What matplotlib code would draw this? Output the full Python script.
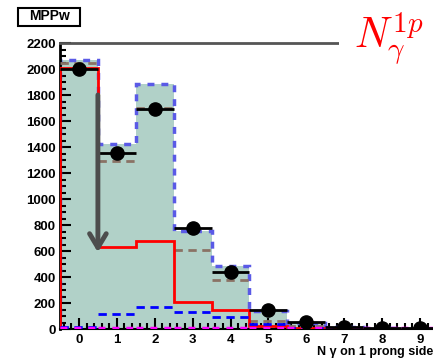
import numpy as np
import matplotlib
matplotlib.use("Agg")
import matplotlib.pyplot as plt
from matplotlib.patches import Rectangle

plt.rcParams['font.family'] = ['Liberation Sans', 'DejaVu Sans']
plt.rcParams['mathtext.fontset'] = 'cm'

# number of photons on the 1-prong side, one bin per integer
ngamma = np.arange(10)
edges = np.arange(11) - 0.5

data = [2000, 1354, 1690, 780, 440, 145, 52, 15, 6, 5]
total = [2069, 1420, 1888, 756, 482, 138, 50, 12, 4, 3]
other = [2046, 1292, 1700, 608, 377, 64, 20, 6, 2, 1]
signal = [2008, 631, 680, 208, 146, 23, 6, 3, 2, 1]
bkg_a = [18, 115, 172, 131, 92, 38, 10, 3, 1, 0]
bkg_b = [4, 4, 4, 4, 4, 4, 4, 4, 4, 4]

W, H = 433, 361
fig = plt.figure(figsize=(W / 100, H / 100), dpi=100)
ax = fig.add_axes([60 / W, 32 / H, (439 - 60) / W, (329 - 43) / H])

# stacked prediction: filled, with dashed outline
ax.stairs(total, edges, fill=True, color='#b1d1c8', zorder=1)
ax.stairs(total, edges, color='#5a5ae6', lw=2.5, ls=(0, (2, 2)), zorder=2)

ax.hlines(other, edges[:-1], edges[1:], color='#8a7265', lw=2, ls=(0, (3, 2)), zorder=3)
ax.stairs(signal, edges, color='#ff0000', lw=2, zorder=4)
ax.hlines(bkg_a, edges[:-1], edges[1:], color='#0000ff', lw=2, ls=(0, (3, 2)), zorder=4)
ax.hlines(bkg_b, edges[:-1], edges[1:], color='#ff00ff', lw=2.5, ls=(0, (2, 2)), zorder=5)

ax.errorbar(ngamma, data, xerr=0.5, fmt='o', color='black', ms=9.5, lw=2,
            capsize=0, zorder=6)

# selection cut arrow
ax.annotate('', xy=(0.5, 590), xytext=(0.5, 1800),
            arrowprops=dict(arrowstyle='->,head_length=1.0,head_width=0.6',
                            color='#4d4d4d', lw=3.5, shrinkA=0, shrinkB=0),
            zorder=7)

ax.set_xlim(-0.5, 9.5)
ax.set_ylim(0, 2200)
ax.set_xticks(range(10))
ax.set_xticks(np.arange(-0.4, 9.5, 0.2), minor=True)
ax.set_yticks(range(0, 2201, 200))
ax.set_yticks(range(0, 2201, 50), minor=True)
ax.tick_params(which='both', direction='in', labelsize=9.5, width=1.5)
ax.tick_params(which='major', length=8)
ax.tick_params(which='minor', length=4.5)
ax.tick_params(axis='y', pad=3)
for lab in ax.get_xticklabels() + ax.get_yticklabels():
    lab.set_fontweight('bold')

ax.spines['left'].set_linewidth(2)
ax.spines['bottom'].set_linewidth(1.5)
ax.spines['top'].set_linewidth(2)
ax.spines['top'].set_color('#555555')
ax.spines['right'].set_visible(False)

fig.text(317 / W, 1 - 352 / H, 'N γ on 1 prong side', fontsize=9,
         fontweight='bold', va='center', ha='left')

# title box
fig.add_artist(Rectangle((18 / W, 1 - 26 / H), 62 / W, 18 / H,
                         transform=fig.transFigure, fc='white', ec='black', lw=1.5))
fig.text(49 / W, 1 - 16.5 / H, 'MPPw', fontsize=10, fontweight='bold',
         ha='center', va='center')

# label panel in the upper right
fig.add_artist(Rectangle((339 / W, 1 - 75 / H), 100 / W, 75 / H,
                         transform=fig.transFigure, fc='white', ec='none', zorder=5))
fig.text(354 / W, 1 - 48 / H, r'$N_{\gamma}^{1p}$', fontsize=30, color='#ff0000',
         ha='left', va='baseline', zorder=6)

fig.savefig('out.png', dpi=100)
